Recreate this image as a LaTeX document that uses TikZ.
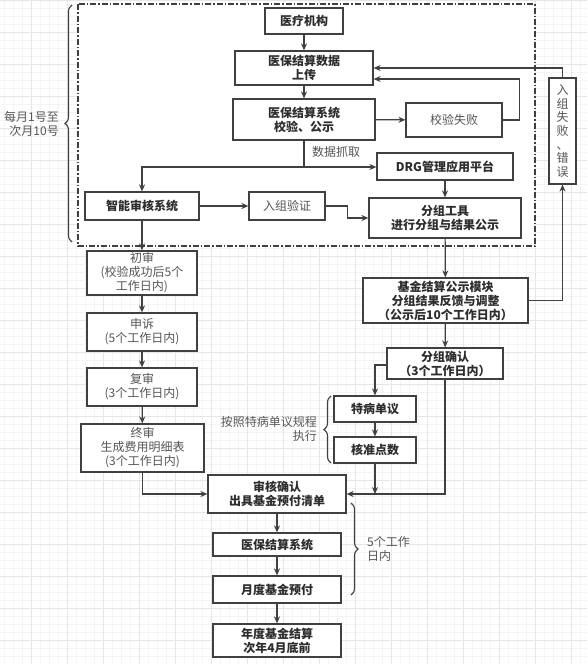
\documentclass[tikz,border=0pt]{standalone}
\usepackage{fontspec}
\setmainfont{Noto Sans CJK SC}
\usepackage{tikz}
\usetikzlibrary{arrows.meta, positioning, calc, decorations.pathreplacing}
\definecolor{lineg}{RGB}{64, 64, 64}
\definecolor{textg}{RGB}{45, 45, 45}
\definecolor{softg}{RGB}{85, 85, 85}
\definecolor{gridminor}{RGB}{244, 244, 244}
\definecolor{gridmajor}{RGB}{230, 230, 230}
\tikzset{
    flowbox/.style={draw=lineg, line width=1.2pt, fill=white, rectangle, inner sep=0pt, align=center, text=textg, font=\fontsize{12}{14}\selectfont\bfseries},
    softbox/.style={flowbox, text=softg, font=\fontsize{12}{14}\selectfont},
    notetext/.style={text=softg, inner sep=0pt, font=\fontsize{12}{14}\selectfont},
    flowarrow/.style={-{Stealth[length=7pt, width=6pt]}, line width=1.2pt, draw=lineg},
    flowline/.style={line width=1.2pt, draw=lineg},
    bracemark/.style={decorate, decoration={brace, amplitude=7pt}, line width=1.1pt, draw=lineg},
    stagebox/.style={draw=lineg, line width=1.1pt, fill=white, dash pattern=on 6pt off 2pt on 1.5pt off 2pt},
}
\begin{document}
\begin{tikzpicture}[x=1pt, y=-1pt]
    \useasboundingbox (0,0) rectangle (587,664);
    % Grid
    \foreach \gx in {4,13,...,587} \draw[gridminor, line width=0.6pt] (\gx,0) -- (\gx,664);
    \foreach \gy in {0,8,...,664} \draw[gridminor, line width=0.6pt] (0,\gy) -- (587,\gy);
    \foreach \gx in {31,67,...,587} \draw[gridmajor, line width=0.7pt] (\gx,0) -- (\gx,664);
    \foreach \gy in {0,32,...,664} \draw[gridmajor, line width=0.7pt] (0,\gy) -- (587,\gy);

    % Monthly stage
    \draw[stagebox] (78,4) rectangle (535,246);
    \draw[bracemark] (72,242) -- (72,5);
    \node[notetext, anchor=east, align=right] (monthnote) at (59,124) {每月1号至\\次月10号};

    % Upload and check
    \node[flowbox, minimum width=78pt, minimum height=26pt] (inst) at (304,21) {医疗机构};
    \node[flowbox, minimum width=138pt, minimum height=34pt] (upload) at (304,68) {医保结算数据\\上传};
    \node[flowbox, minimum width=142pt, minimum height=41pt] (check) at (304,119.5) {医保结算系统\\校验、公示};
    \node[softbox, minimum width=96pt, minimum height=34pt] (checkfail) at (454,120) {校验失败};
    \node[softbox, minimum width=27pt, minimum height=106pt, font=\fontsize{12}{13.6}\selectfont] (groupfail) at (562.5,131) {入\\组\\失\\败\\、\\错\\误};

    % Grouping
    \node[flowbox, minimum width=136pt, minimum height=27pt] (drg) at (445,166.5) {DRG管理应用平台};
    \node[flowbox, minimum width=114pt, minimum height=28pt] (audit) at (142,206) {智能审核系统};
    \node[softbox, minimum width=76pt, minimum height=28pt] (verify) at (287,206) {入组验证};
    \node[flowbox, minimum width=152pt, minimum height=40pt] (grouper) at (445,218) {分组工具\\进行分组与结果公示};

    % Feedback
    \node[flowbox, minimum width=165pt, minimum height=45pt] (fund) at (445.5,300.5) {基金结算公示模块\\分组结果反馈与调整\\（公示后10个工作日内）};
    \node[flowbox, minimum width=116pt, minimum height=31pt] (confirm) at (445,363.5) {分组确认\\（3个工作日内）};
    \node[flowbox, minimum width=82pt, minimum height=26pt] (special) at (375,409) {特病单议};
    \node[flowbox, minimum width=82pt, minimum height=26pt] (points) at (375,450) {核准点数};
    \draw[bracemark] (331,463) -- (331,396);
    \node[notetext, anchor=east, align=right] (specialnote) at (317,429) {按照特病单议规程\\执行};

    % Review chain
    \node[softbox, minimum width=110pt, minimum height=44pt] (first) at (142,273) {初审\\(校验成功后5个\\工作日内)};
    \node[softbox, minimum width=110pt, minimum height=38pt] (appeal) at (142,332) {申诉\\(5个工作日内)};
    \node[softbox, minimum width=110pt, minimum height=38pt] (recheck) at (142,387) {复审\\(3个工作日内)};
    \node[softbox, minimum width=123pt, minimum height=48pt] (final) at (142.5,448) {终审\\生成费用明细表\\(3个工作日内)};

    % Payment
    \node[flowbox, minimum width=138pt, minimum height=38pt] (approve) at (277,494) {审核确认\\出具基金预付清单};
    \node[flowbox, minimum width=128pt, minimum height=23pt] (settle) at (277,544.5) {医保结算系统};
    \node[flowbox, minimum width=128pt, minimum height=27pt] (prepay) at (277,589.5) {月度基金预付};
    \node[flowbox, minimum width=128pt, minimum height=33pt] (annual) at (277,640.5) {年度基金结算\\次年4月底前};
    \draw[bracemark] (351,503) -- (351,595);
    \node[notetext, anchor=west, align=left] (paynote) at (367,549) {5个工作\\日内};

    % Connectors
    \draw[flowarrow] (inst) -- (upload);
    \draw[flowarrow] (upload) -- (check);
    \draw[flowarrow] (check) -- (checkfail);
    \draw[flowarrow] (checkfail.east) -- ++(17,0) |- ([shift={(0,11)}]upload.east);
    \draw[flowarrow] (groupfail.north) |- (upload.east);
    \draw[flowarrow] (fund.east) -| (groupfail.south);
    \coordinate (grab) at (304,167);
    \draw[flowline] (check.south) -- (grab);
    \draw[flowarrow] (grab) -- (grab -| drg.west);
    \draw[flowarrow] (grab) -| (audit.north);
    \node[notetext, anchor=west] (grablabel) at (312,152) {数据抓取};
    \draw[flowarrow] (audit) -- (verify);
    \draw[flowarrow] (verify.east) -- ++(22,0) |- (grouper.west);
    \draw[flowarrow] (drg) -- (grouper);
    \draw[flowarrow] (grouper) -- (fund);
    \draw[flowarrow] (fund) -- (confirm);
    \draw[flowarrow] ([shift={(0,1.5)}]confirm.west) -| (special.north);
    \draw[flowarrow] (special) -- (points);
    \draw[flowarrow] (confirm.south) |- (approve.east);
    \draw[flowarrow] (points.south) -- (points.south |- approve.east);
    \draw[flowarrow] (audit) -- (first);
    \draw[flowarrow] (first) -- (appeal);
    \draw[flowarrow] (appeal) -- (recheck);
    \draw[flowarrow] (recheck) -- (final);
    \draw[flowarrow] (final.south) |- (approve.west);
    \draw[flowarrow] (approve) -- (settle);
    \draw[flowarrow] (settle) -- (prepay);
    \draw[flowarrow] (prepay) -- (annual);
\end{tikzpicture}
\end{document}
